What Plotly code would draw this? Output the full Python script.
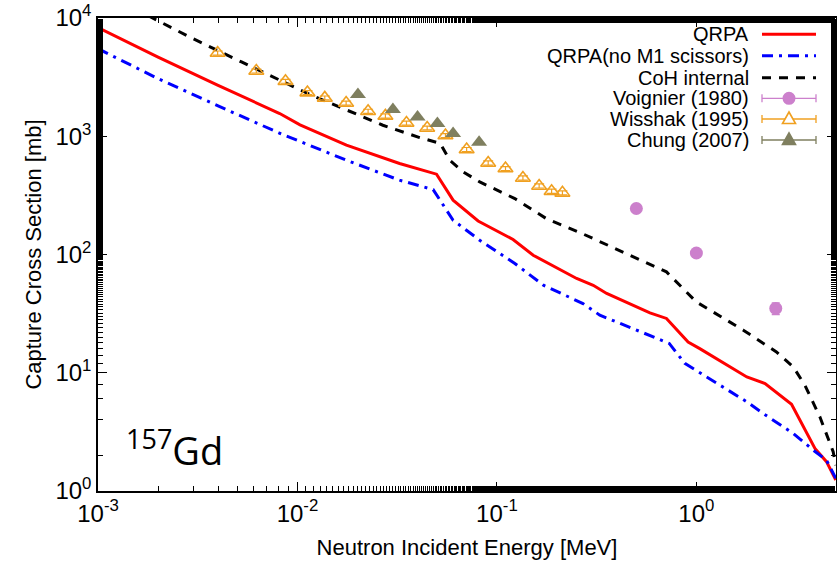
import plotly.graph_objects as go

# ---------------- data ----------------
qrpa_E = [0.001, 0.002, 0.004, 0.00815, 0.0103, 0.0176, 0.0325, 0.0452, 0.0498, 0.0603, 0.0805,
          0.1205, 0.152, 0.251, 0.304, 0.355, 0.465, 0.585, 0.708, 0.909, 1.04, 1.79, 2.21, 2.63,
          3.0, 3.93, 4.49, 5.0]
qrpa_S = [8300, 4660, 2690, 1556, 1250, 840, 588, 499, 478, 288, 192,
          134, 98.6, 62.7, 54.9, 46.8, 38.0, 32.1, 28.8, 18.2, 16.0, 9.22, 8.1, 6.48,
          5.42, 2.29, 1.77, 1.24]

nom1_E = [0.001, 0.002, 0.004, 0.00815, 0.0176, 0.0325, 0.0479, 0.0603, 0.082, 0.123, 0.171,
          0.270, 0.328, 0.482, 0.731, 0.875, 1.79, 2.16, 3.06, 3.85, 4.49, 5.0]
nom1_S = [5500, 3070, 1807, 1060, 627, 425, 354, 195, 132, 84, 55,
          38.5, 30.7, 23.7, 17.7, 12.0, 5.68, 4.53, 3.07, 2.22, 1.82, 1.28]

coh_E = [0.0015, 0.00188, 0.00288, 0.00524, 0.01175, 0.0268, 0.041, 0.052, 0.058, 0.0678, 0.082,
         0.123, 0.177, 0.266, 0.405, 0.501, 0.708, 1.0, 1.72, 2.52, 3.06, 3.5, 4.16, 4.85, 5.0]
coh_S = [12170, 10000, 6900, 4250, 2223, 1239, 975, 870, 627, 499, 411,
         297, 201, 151, 109, 93, 71.3, 39.7, 22.9, 15.0, 11.2, 7.85, 4.24, 2.15, 1.65]

voig_E = [0.5, 1.0, 2.5]
voig_S = [245, 103, 35]
voig_err = [15, 7, 4]

wiss_E = [0.00398, 0.00622, 0.00871, 0.01122, 0.01371, 0.01754, 0.0226, 0.0276, 0.0352, 0.0447,
          0.0552, 0.0705, 0.0904, 0.1104, 0.135, 0.1628, 0.188, 0.213]
wiss_S = [5060, 3566, 2918, 2339, 2109, 1909, 1626, 1486, 1294, 1175,
          1014, 773, 594, 533, 444, 380, 343, 332]
wiss_err = [200, 140, 110, 90, 80, 75, 65, 60, 50, 45,
            40, 30, 24, 21, 18, 15, 14, 13]

chung_E = [0.0201, 0.0301, 0.040, 0.0503, 0.0603, 0.0814]
chung_S = [2250, 1683, 1456, 1280, 1054, 889]

tick_vals_x = [0.001, 0.01, 0.1, 1]
tick_text_x = ["10<sup>-3</sup>", "10<sup>-2</sup>", "10<sup>-1</sup>", "10<sup>0</sup>"]
tick_vals_y = [1, 10, 100, 1000, 10000]
tick_text_y = ["10<sup>0</sup>", "10<sup>1</sup>", "10<sup>2</sup>", "10<sup>3</sup>", "10<sup>4</sup>"]

legend_names = ["QRPA", "QRPA(no M1 scissors)", "CoH internal",
                "Voignier (1980)", "Wisshak (1995)", "Chung (2007)"]

# ---------------- style ----------------
RED = "#ff0000"
BLUE = "#0000ff"
BLACK = "#000000"
VIOL = "#cc80cc"
ORANGE = "#f0a020"
OLIVE = "#7f7f5f"
FONT = "Liberation Sans, Arial, sans-serif"

fig = go.Figure()
fig.add_trace(go.Scatter(x=qrpa_E, y=qrpa_S, mode="lines",
                         line=dict(color=RED, width=3), showlegend=False))
fig.add_trace(go.Scatter(x=nom1_E, y=nom1_S, mode="lines",
                         line=dict(color=BLUE, width=3, dash="11px,6px,3px,6px"), showlegend=False))
fig.add_trace(go.Scatter(x=coh_E, y=coh_S, mode="lines",
                         line=dict(color=BLACK, width=3, dash="9px,8px"), showlegend=False))
fig.add_trace(go.Scatter(x=voig_E, y=voig_S, mode="markers",
                         marker=dict(symbol="circle", size=13, color=VIOL),
                         error_y=dict(type="data", array=voig_err, color=VIOL, thickness=1.2, width=4),
                         showlegend=False))
fig.add_trace(go.Scatter(x=wiss_E, y=wiss_S, mode="markers",
                         marker=dict(symbol="triangle-up-open", size=13, color=ORANGE,
                                     line=dict(width=1.6, color=ORANGE)),
                         error_y=dict(type="data", array=wiss_err, color=ORANGE, thickness=1.2, width=5),
                         showlegend=False))
fig.add_trace(go.Scatter(x=chung_E, y=chung_S, mode="markers",
                         marker=dict(symbol="triangle-up", size=14, color=OLIVE),
                         showlegend=False))

# ---------------- manual legend (text right, sample right) ----------------
W, H = 837, 564
L, R, T, B = 98, 1, 18, 73
PW, PH = W - L - R, H - T - B


def px2paper_x(px):
    return (px - L) / PW


def px2paper_y(py):
    return (H - B - py) / PH


row_py = [34.3, 55.7, 77.7, 98.3, 119.0, 140.0]
text_right = 751
s0, s1, sc = 762, 816, 789
shapes = []
annots = []
for i, name in enumerate(legend_names):
    yp = px2paper_y(row_py[i])
    annots.append(dict(x=px2paper_x(text_right), y=yp, xref="paper", yref="paper",
                       text=name, showarrow=False, xanchor="right", yanchor="middle",
                       font=dict(family=FONT, size=20, color="black")))
line_styles = [(RED, 3, "solid"), (BLUE, 3, "11px,6px,3px,6px"), (BLACK, 3, "9px,8px")]
for i, (c, w, d) in enumerate(line_styles):
    yp = px2paper_y(row_py[i])
    shapes.append(dict(type="line", xref="paper", yref="paper",
                       x0=px2paper_x(s0), x1=px2paper_x(s1), y0=yp, y1=yp,
                       line=dict(color=c, width=w, dash=d)))
pt_styles = [(VIOL, "circle"), (ORANGE, "tri_open"), (OLIVE, "tri")]
for j, (c, kind) in enumerate(pt_styles):
    i = 3 + j
    yp = px2paper_y(row_py[i])
    shapes.append(dict(type="line", xref="paper", yref="paper",
                       x0=px2paper_x(s0), x1=px2paper_x(s1), y0=yp, y1=yp,
                       line=dict(color=c, width=1.3)))
    for ex in (s0, s1):
        shapes.append(dict(type="line", xref="paper", yref="paper",
                           xsizemode="pixel", ysizemode="pixel",
                           xanchor=px2paper_x(ex), yanchor=yp,
                           x0=0, x1=0, y0=-4, y1=4,
                           line=dict(color=c, width=1.3)))
    if kind == "circle":
        shapes.append(dict(type="circle", xref="paper", yref="paper",
                           xsizemode="pixel", ysizemode="pixel",
                           xanchor=px2paper_x(sc), yanchor=yp,
                           x0=-6.5, x1=6.5, y0=-6.5, y1=6.5,
                           fillcolor=c, line=dict(color=c, width=0)))
    else:
        path = "M -6.5 -4.5 L 6.5 -4.5 L 0 7 Z"
        shapes.append(dict(type="path", xref="paper", yref="paper",
                           xsizemode="pixel", ysizemode="pixel",
                           xanchor=px2paper_x(sc), yanchor=yp,
                           path=path,
                           fillcolor=("white" if kind == "tri_open" else c),
                           line=dict(color=c, width=1.6)))

# 157Gd label
annots.append(dict(x=px2paper_x(124), y=px2paper_y(448), xref="paper", yref="paper",
                   text="<sup><span style='font-size:27px'>157</span></sup>Gd", showarrow=False,
                   xanchor="left", yanchor="middle",
                   font=dict(family="Open Sans, Noto Sans, sans-serif", size=38, color="black")))

axis_common = dict(type="log", showgrid=False, zeroline=False, showline=True,
                   linecolor="black", linewidth=1.5, mirror="allticks",
                   ticks="inside", ticklen=9, tickwidth=1, tickcolor="black",
                   tickfont=dict(family=FONT, size=24, color="black"),
                   minor=dict(ticks="inside", ticklen=5, tickwidth=1, tickcolor="black",
                              showgrid=False))

fig.update_xaxes(**axis_common, range=[-3, 0.7], tickvals=tick_vals_x, ticktext=tick_text_x,
                 title=dict(text="Neutron Incident Energy [MeV]",
                            font=dict(family=FONT, size=22, color="black"), standoff=14))
fig.update_yaxes(**axis_common, range=[0, 4], tickvals=tick_vals_y, ticktext=tick_text_y,
                 title=dict(text="Capture Cross Section [mb]",
                            font=dict(family=FONT, size=22, color="black"), standoff=8))

fig.update_layout(width=W, height=H, margin=dict(l=L, r=R, t=T, b=B, autoexpand=False),
                  paper_bgcolor="white", plot_bgcolor="white",
                  shapes=shapes, annotations=annots, showlegend=False)

fig.write_html("out.html")
